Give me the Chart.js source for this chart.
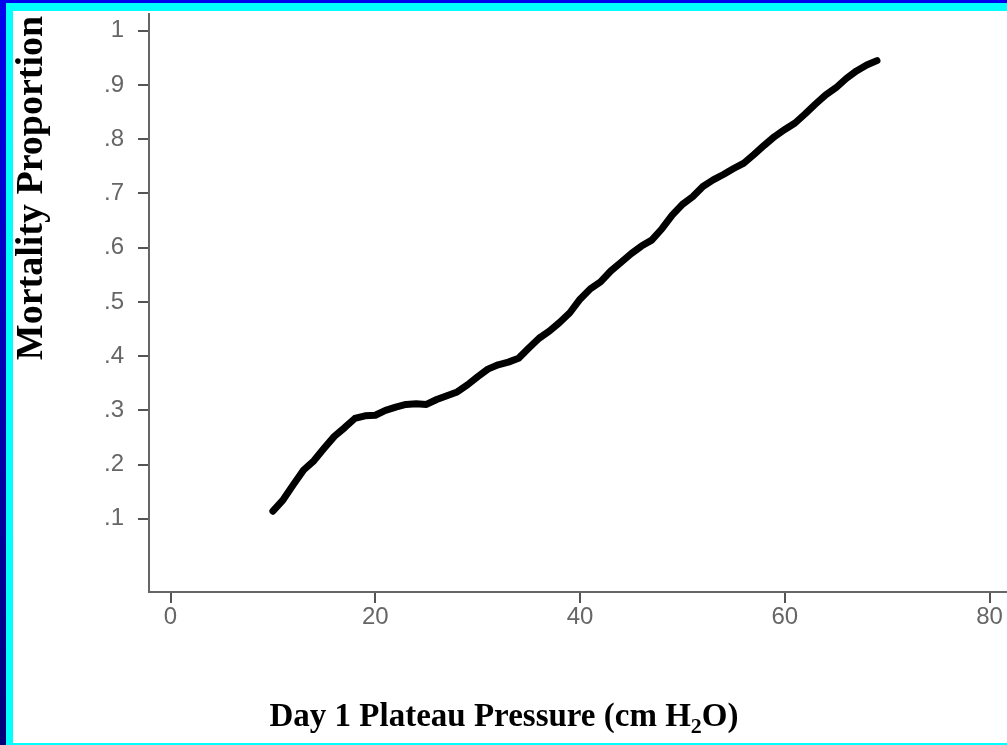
<!DOCTYPE html>
<html>
<head>
<meta charset="utf-8">
<script src="https://cdn.jsdelivr.net/npm/chart.js@4"></script>
<style>
  html, body { margin: 0; padding: 0; background: #ffffff; }
  #frame {
    position: absolute; left: 0; top: 0; width: 1007px; height: 745px;
    background: linear-gradient(to bottom, #0000ee, #000078);
    overflow: hidden;
  }
  #cyan {
    position: absolute; left: 6px; top: 3px; width: 1001px; height: 742px;
    background: #00ffff;
  }
  #plot {
    position: absolute; left: 13px; top: 11px; width: 994px; height: 732px;
    background: #ffffff;
  }
</style>
</head>
<body>
<div id="frame">
  <div id="cyan"></div>
  <div id="plot"><canvas id="chart-mortality" width="994" height="732"></canvas></div>
</div>
<script>
const plateauPressure = [10, 11, 12, 13, 14, 15, 16, 17, 18, 19, 20, 21, 22, 23, 24, 25, 26, 27, 28, 29,
  30, 31, 32, 33, 34, 35, 36, 37, 38, 39, 40, 41, 42, 43, 44, 45, 46, 47, 48, 49,
  50, 51, 52, 53, 54, 55, 56, 57, 58, 59, 60, 61, 62, 63, 64, 65, 66, 67, 68, 69];
const mortalityProportion = [0.114, 0.135, 0.163, 0.190, 0.207, 0.230, 0.252, 0.268, 0.285, 0.290,
  0.291, 0.300, 0.306, 0.311, 0.312, 0.311, 0.320, 0.327, 0.334, 0.347,
  0.362, 0.376, 0.384, 0.389, 0.396, 0.415, 0.433, 0.446, 0.462, 0.480,
  0.505, 0.524, 0.537, 0.557, 0.573, 0.589, 0.603, 0.614, 0.635, 0.660,
  0.680, 0.694, 0.713, 0.725, 0.735, 0.746, 0.756, 0.772, 0.789, 0.805,
  0.818, 0.830, 0.847, 0.865, 0.882, 0.895, 0.912, 0.926, 0.937, 0.945];
const xTickValues = [0, 20, 40, 60, 80];
const xTickLabels = ['0', '20', '40', '60', '80'];
const yTickValues = [0.1, 0.2, 0.3, 0.4, 0.5, 0.6, 0.7, 0.8, 0.9, 1];
const yTickLabels = ['.1', '.2', '.3', '.4', '.5', '.6', '.7', '.8', '.9', '1'];
const xTitle = ['Day 1 Plateau Pressure (cm H', '2', 'O)'];
const yTitle = 'Mortality Proportion';

const tickFont = { family: "'Liberation Sans', Arial, sans-serif", size: 24 };

// axis titles drawn by hand so they can sit where the original puts them
const axisTitles = {
    id: 'axisTitles',
    afterDraw(chart) {
        const ctx = chart.ctx;
        ctx.save();
        ctx.fillStyle = '#000000';
        ctx.textBaseline = 'alphabetic';

        const big = "bold 33px 'Liberation Serif', 'Times New Roman', serif";
        const small = "bold 22px 'Liberation Serif', 'Times New Roman', serif";
        ctx.font = big;
        const w0 = ctx.measureText(xTitle[0]).width;
        const w2 = ctx.measureText(xTitle[2]).width;
        ctx.font = small;
        const w1 = ctx.measureText(xTitle[1]).width;
        let x = 491 - (w0 + w1 + w2) / 2;
        const base = 715;
        ctx.textAlign = 'left';
        ctx.font = big;
        ctx.fillText(xTitle[0], x, base);
        x += w0;
        ctx.font = small;
        ctx.fillText(xTitle[1], x, base + 7);
        x += w1;
        ctx.font = big;
        ctx.fillText(xTitle[2], x, base);

        ctx.translate(29, 177);
        ctx.rotate(-Math.PI / 2);
        ctx.font = "bold 38px 'Liberation Serif', 'Times New Roman', serif";
        ctx.textAlign = 'center';
        ctx.fillText(yTitle, 0, 0);
        ctx.restore();
    }
};

new Chart(document.getElementById('chart-mortality'), {
    type: 'scatter',
    data: {
        datasets: [{
            data: plateauPressure.map((p, i) => ({ x: p, y: mortalityProportion[i] })),
            showLine: true,
            borderColor: '#000000',
            borderWidth: 7,
            borderCapStyle: 'round',
            borderJoinStyle: 'round',
            pointRadius: 0,
            tension: 0
        }]
    },
    options: {
        responsive: false,
        animation: false,
        layout: { padding: { top: 3, right: 0, left: 0, bottom: 0 } },
        plugins: {
            legend: { display: false },
            tooltip: { enabled: false }
        },
        scales: {
            x: {
                type: 'linear',
                min: -2.1,
                max: 81.7,
                afterBuildTicks(scale) {
                    scale.ticks = xTickValues.map(v => ({ value: v }));
                },
                afterFit(scale) {
                    scale.height = 151;
                    scale.paddingLeft = 0;
                    scale.paddingRight = 0;
                },
                ticks: {
                    callback(value, index) {
                        return xTickLabels[index];
                    },
                    color: '#666666',
                    font: tickFont,
                    padding: 0,
                    maxRotation: 0
                },
                grid: {
                    drawOnChartArea: false,
                    drawTicks: true,
                    tickLength: 11,
                    color: '#555555',
                    lineWidth: 2
                },
                border: { color: '#666666', width: 2 }
            },
            y: {
                type: 'linear',
                min: -0.035,
                max: 1.031,
                afterBuildTicks(scale) {
                    scale.ticks = yTickValues.map(v => ({ value: v }));
                },
                afterFit(scale) {
                    scale.width = 136;
                    scale.paddingTop = 0;
                    scale.paddingBottom = 0;
                },
                ticks: {
                    callback(value, index) {
                        return yTickLabels[index];
                    },
                    color: '#666666',
                    font: tickFont,
                    padding: 14
                },
                grid: {
                    drawOnChartArea: false,
                    drawTicks: true,
                    tickLength: 11,
                    color: '#555555',
                    lineWidth: 2
                },
                border: { color: '#666666', width: 2 }
            }
        }
    },
    plugins: [axisTitles]
});
</script>
</body>
</html>
